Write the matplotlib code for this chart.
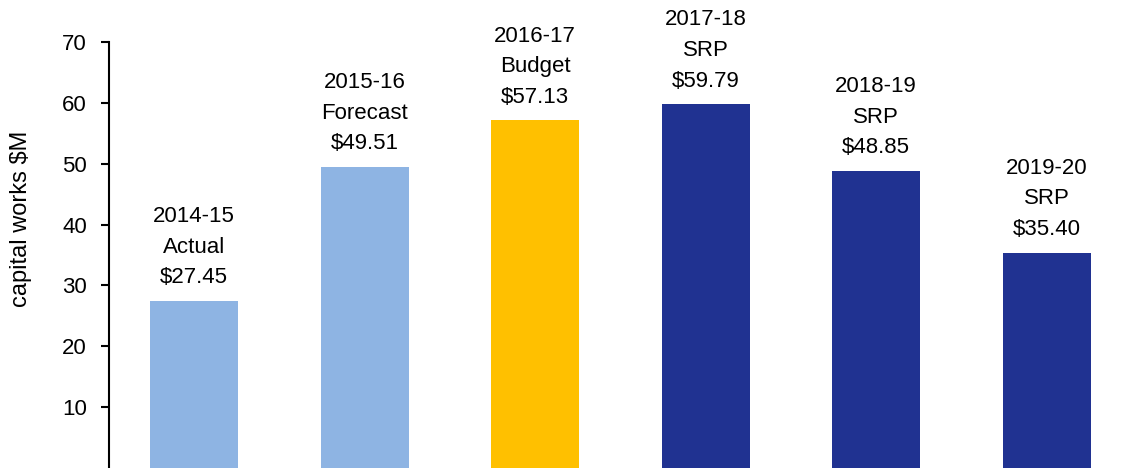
import matplotlib.pyplot as plt

years = ['2014-15', '2015-16', '2016-17', '2017-18', '2018-19', '2019-20']
kinds = ['Actual', 'Forecast', 'Budget', 'SRP', 'SRP', 'SRP']
values = [27.45, 49.51, 57.13, 59.79, 48.85, 35.40]
colors = ['#8EB4E3', '#8EB4E3', '#FFC000', '#203291', '#203291', '#203291']

plt.rcParams['font.family'] = ['Liberation Sans', 'DejaVu Sans']

fig = plt.figure(figsize=(11.25, 4.68), dpi=100)
ax = fig.add_axes([109 / 1125, 0, 1023 / 1125, 426 / 468])

x = range(len(values))
bars = ax.bar(x, values, width=0.515, color=colors)

for i, v in enumerate(values):
  ax.annotate('%s\n%s\n$%.2f' % (years[i], kinds[i], v), (i, v),
              xytext=(0, 9), textcoords='offset points',
              ha='center', va='bottom', fontsize=16, linespacing=1.6,
              annotation_clip=False)

ax.set_xlim(-0.5, 5.5)
ax.set_ylim(0, 70)
ax.set_yticks([10, 20, 30, 40, 50, 60, 70])
ax.set_xticks([])
ax.tick_params(axis='y', labelsize=16, length=6, width=1.5, pad=10)
for s in ['top', 'right', 'bottom']:
  ax.spines[s].set_visible(False)
ax.spines['left'].set_linewidth(1.5)

fig.text(21 / 1125, 1 - 219 / 468, 'capital works $M', rotation=90,
         ha='center', va='center', fontsize=17)

fig.savefig('out.png', dpi=100)
